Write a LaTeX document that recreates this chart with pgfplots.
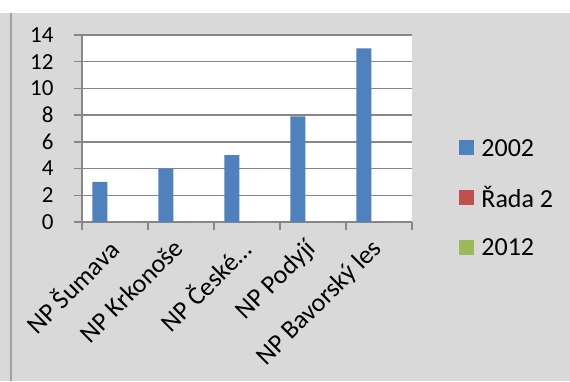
\documentclass[border=0pt]{standalone}
\usepackage{pgfplots}
\pgfplotsset{compat=1.18}
\usetikzlibrary{backgrounds}
\usepackage{fontspec}
\setmainfont{Carlito}
\definecolor{bgray}{HTML}{D9D9D9}
\definecolor{gridc}{HTML}{878787}
\definecolor{borderc}{HTML}{A0A0A0}
\definecolor{s1}{HTML}{4F81BD}
\definecolor{s2}{HTML}{C0504D}
\definecolor{s3}{HTML}{9BBB59}
\begin{document}
\begin{tikzpicture}[x=1pt,y=1pt]
\begin{axis}[
  scale only axis, width=330pt, height=187pt,
  ymin=0, ymax=14, ytick={0,2,...,14},
  xmin=-0.5, xmax=4.5,
  xtick={-0.5,0.5,...,4.5}, xticklabels={},
  extra x ticks={0,1,2,3,4},
  extra x tick labels={NP Šumava, NP Krkonoše, NP České\dots, NP Podyjí, NP Bavorský les},
  extra x tick style={tick style={draw=none}},
  axis background/.style={fill=white},
  axis x line*=bottom, axis y line*=left,
  axis line style={gridc, line width=1.3pt},
  ymajorgrids, grid style={gridc, line width=1.3pt},
  tick align=outside, major tick length=8pt,
  tick style={gridc, line width=1.3pt},
  /pgf/number format/assume math mode=true,
  yticklabel style={font=\fontsize{23}{27}\selectfont, text=black, xshift=-17pt},
  xticklabel style={font=\fontsize{26}{30}\selectfont, text=black, xshift=-9pt, yshift=-4pt, rotate=45, anchor=north east, inner sep=2pt},
  ybar=0pt, bar width=15pt,
  legend style={at={(1.134,0.128)}, anchor=west, draw=none, fill=none,
    font=\fontsize{26}{30}\selectfont, row sep=29pt, column sep=7pt,
    nodes={inner sep=0pt}},
  legend cell align=left,
  legend image code/.code={\fill[#1] (0pt,-7pt) rectangle (15pt,8pt);},
]
\addplot[fill=s1, draw=none] coordinates {(0,3) (1,4) (2,5) (3,7.9) (4,13)};
\addplot[fill=s2, draw=none] coordinates {(0,0) (1,0) (2,0) (3,0) (4,0)};
\addplot[fill=s3, draw=none] coordinates {(0,0) (1,0) (2,0) (3,0) (4,0)};
\legend{2002, Řada 2, 2012}
\coordinate (O) at (rel axis cs:0,0);
\end{axis}
\begin{scope}[on background layer, shift={(O)}]
\fill[white] (-82,-159) rectangle (488,222);
\fill[bgray] (-82,-159) rectangle (488,209);
\draw[borderc, line width=2pt] (-71,-159) -- (-71,209);
\end{scope}
\pgfresetboundingbox
\path[use as bounding box, shift={(O)}] (-82,-159) rectangle (488,222);
\end{tikzpicture}
\end{document}
